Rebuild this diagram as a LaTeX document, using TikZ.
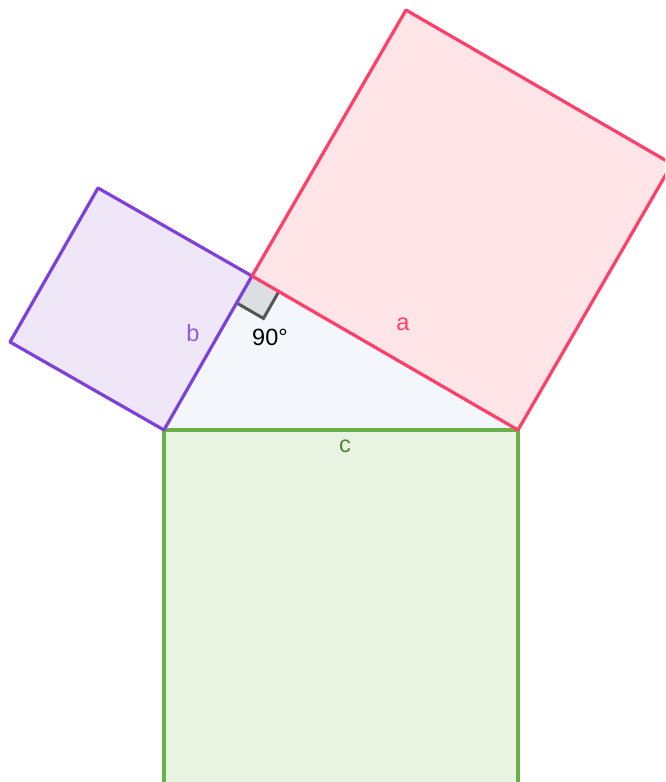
\documentclass[tikz,border=0pt]{standalone}
\usepackage{fontspec}
\setmainfont{Liberation Sans}
\usetikzlibrary{calc}
\definecolor{sqred}{HTML}{FF3F68}
\definecolor{sqredfill}{HTML}{FFE4E8}
\definecolor{sqpurple}{HTML}{7E40DA}
\definecolor{sqpurplefill}{HTML}{EFE6F8}
\definecolor{sqgreen}{HTML}{6BB14A}
\definecolor{sqgreenfill}{HTML}{E9F3E2}
\definecolor{trifill}{HTML}{F3F7FC}
\definecolor{markfill}{HTML}{DCDFE2}
\definecolor{markline}{HTML}{555555}
\tikzset{
  side/.style={line width=3.2pt, line join=round},
  lbl/.style={font=\fontsize{23.5}{26}\selectfont, inner sep=0pt}
}
\begin{document}
\begin{tikzpicture}[x=1pt, y=-1pt]
  \useasboundingbox (0,0) rectangle (665,782);
  \clip (0,0) rectangle (665,782);

  % triangle corners
  \coordinate (A) at (164,430);
  \coordinate (B) at (518,430);
  \coordinate (C) at (252,276);

  % outer corners of the squares
  \coordinate (b1) at ($(C)!1!-90:(A)$);
  \coordinate (b2) at ($(A)!1!90:(C)$);
  \coordinate (a1) at ($(C)!1!90:(B)$);
  \coordinate (a2) at ($(B)!1!-90:(C)$);
  \coordinate (c1) at ($(B)!1!90:(A)$);
  \coordinate (c2) at ($(A)!1!-90:(B)$);

  % fills
  \fill[trifill] (A) -- (B) -- (C) -- cycle;
  \fill[sqpurplefill] (A) -- (C) -- (b1) -- (b2) -- cycle;
  \fill[sqredfill] (C) -- (a1) -- (a2) -- (B) -- cycle;
  \fill[sqgreenfill] (A) -- (B) -- (c1) -- (c2) -- cycle;

  % right angle
  \coordinate (m1) at ($(C)!31pt!(A)$);
  \coordinate (m3) at ($(C)!31pt!(B)$);
  \coordinate (m2) at ($(m1)+(m3)-(C)$);
  \fill[markfill] (C) -- (m1) -- (m2) -- (m3) -- cycle;
  \draw[markline, line width=3pt, line join=miter] (m1) -- (m2) -- (m3);

  % outlines
  \draw[side, sqgreen] (A) -- (B) -- (c1) -- (c2) -- cycle;
  \draw[side, sqpurple] (A) -- (C) -- (b1) -- (b2) -- cycle;
  \draw[side, sqred] (C) -- (a1) -- (a2) -- (B) -- cycle;

  % labels
  \node[lbl, text=sqred] (la) at (403,324) {a};
  \node[lbl, text=sqpurple!85!white] (lb) at (193,333) {b};
  \node[lbl, text=sqgreen!75!black] (lc) at (345,446) {c};
  \node[lbl] (lang) at (270,337) {90°};
\end{tikzpicture}
\end{document}
